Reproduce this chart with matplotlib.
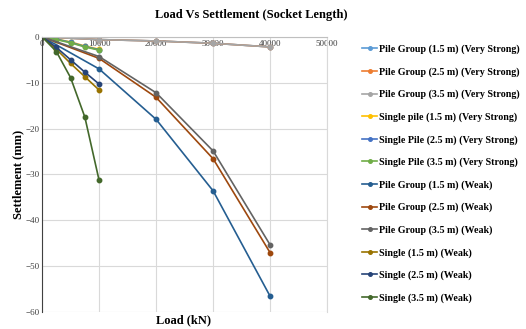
import matplotlib
matplotlib.use("Agg")
import matplotlib.pyplot as plt

plt.rcParams['font.family'] = ['Liberation Serif', 'DejaVu Serif']

# data
loads_group = [0, 10000, 20000, 30000, 40000]
loads_single = [0, 2500, 5000, 7500, 10000]

group_15_vs = [0, -0.6, -0.9, -1.4, -2.2]
group_25_vs = [0, -0.6, -0.9, -1.4, -2.2]
group_35_vs = [0, -0.6, -0.9, -1.4, -2.2]
single_15_vs = [0, -0.5, -1.1, -2.0, -2.7]
single_25_vs = [0, -0.5, -1.2, -2.1, -2.8]
single_35_vs = [0, -0.6, -1.3, -2.2, -2.9]
group_15_weak = [0, -7.0, -18.0, -33.6, -56.6]
group_25_weak = [0, -4.7, -13.2, -26.6, -47.1]
group_35_weak = [0, -4.3, -12.2, -24.9, -45.4]
single_15_weak = [0, -2.7, -5.8, -8.7, -11.6]
single_25_weak = [0, -2.3, -5.0, -7.7, -10.3]
single_35_weak = [0, -3.2, -8.9, -17.5, -31.3]

series = [
    ("Pile Group (1.5 m) (Very Strong)", loads_group, group_15_vs, "#5B9BD5"),
    ("Pile Group (2.5 m) (Very Strong)", loads_group, group_25_vs, "#ED7D31"),
    ("Pile Group (3.5 m) (Very Strong)", loads_group, group_35_vs, "#A5A5A5"),
    ("Single pile (1.5 m) (Very Strong)", loads_single, single_15_vs, "#FFC000"),
    ("Single Pile (2.5 m) (Very Strong)", loads_single, single_25_vs, "#4472C4"),
    ("Single Pile (3.5 m) (Very Strong)", loads_single, single_35_vs, "#70AD47"),
    ("Pile Group (1.5 m) (Weak)", loads_group, group_15_weak, "#255E91"),
    ("Pile Group (2.5 m) (Weak)", loads_group, group_25_weak, "#9E480E"),
    ("Pile Group (3.5 m) (Weak)", loads_group, group_35_weak, "#636363"),
    ("Single (1.5 m) (Weak)", loads_single, single_15_weak, "#997300"),
    ("Single (2.5 m) (Weak)", loads_single, single_25_weak, "#264478"),
    ("Single (3.5 m) (Weak)", loads_single, single_35_weak, "#43682B"),
]

fig = plt.figure(figsize=(5.26, 3.29), dpi=100)
ax = fig.add_axes([0.08, 0.052, 0.542, 0.836])

for label, x, y, c in series:
    ax.plot(x, y, color=c, lw=1.2, marker='o', ms=3.2, label=label)

ax.set_xlim(0, 50000)
ax.set_ylim(-60, 0)
ax.set_xticks(range(0, 50001, 10000))
ax.set_yticks(range(-60, 1, 10))
ax.grid(True, color='#d9d9d9', lw=0.8)
ax.set_axisbelow(True)

ax.spines['bottom'].set_position(('data', 0))
ax.spines['bottom'].set_color('#bfbfbf')
ax.spines['top'].set_visible(False)
ax.spines['right'].set_color('#d9d9d9')
ax.spines['left'].set_color('#404040')
ax.tick_params(length=0, labelsize=6.5, colors='#404040', pad=2)

fig.text(0.348, 0.025, "Load (kN)", ha='center', va='center',
         fontsize=9, fontweight='bold')
fig.text(0.034, 0.47, "Settlement (mm)", ha='center', va='center',
         rotation=90, fontsize=9, fontweight='bold')
fig.text(0.477, 0.955, "Load Vs Settlement (Socket Length)", ha='center',
         va='center', fontsize=9, fontweight='bold')

fig.legend(loc='upper left', bbox_to_anchor=(0.672, 0.892), frameon=False,
           prop={'size': 7.2, 'weight': 'bold'}, handlelength=1.5,
           handletextpad=0.15, labelspacing=1.3, markerscale=0.8)

fig.savefig("out.png", dpi=100)
